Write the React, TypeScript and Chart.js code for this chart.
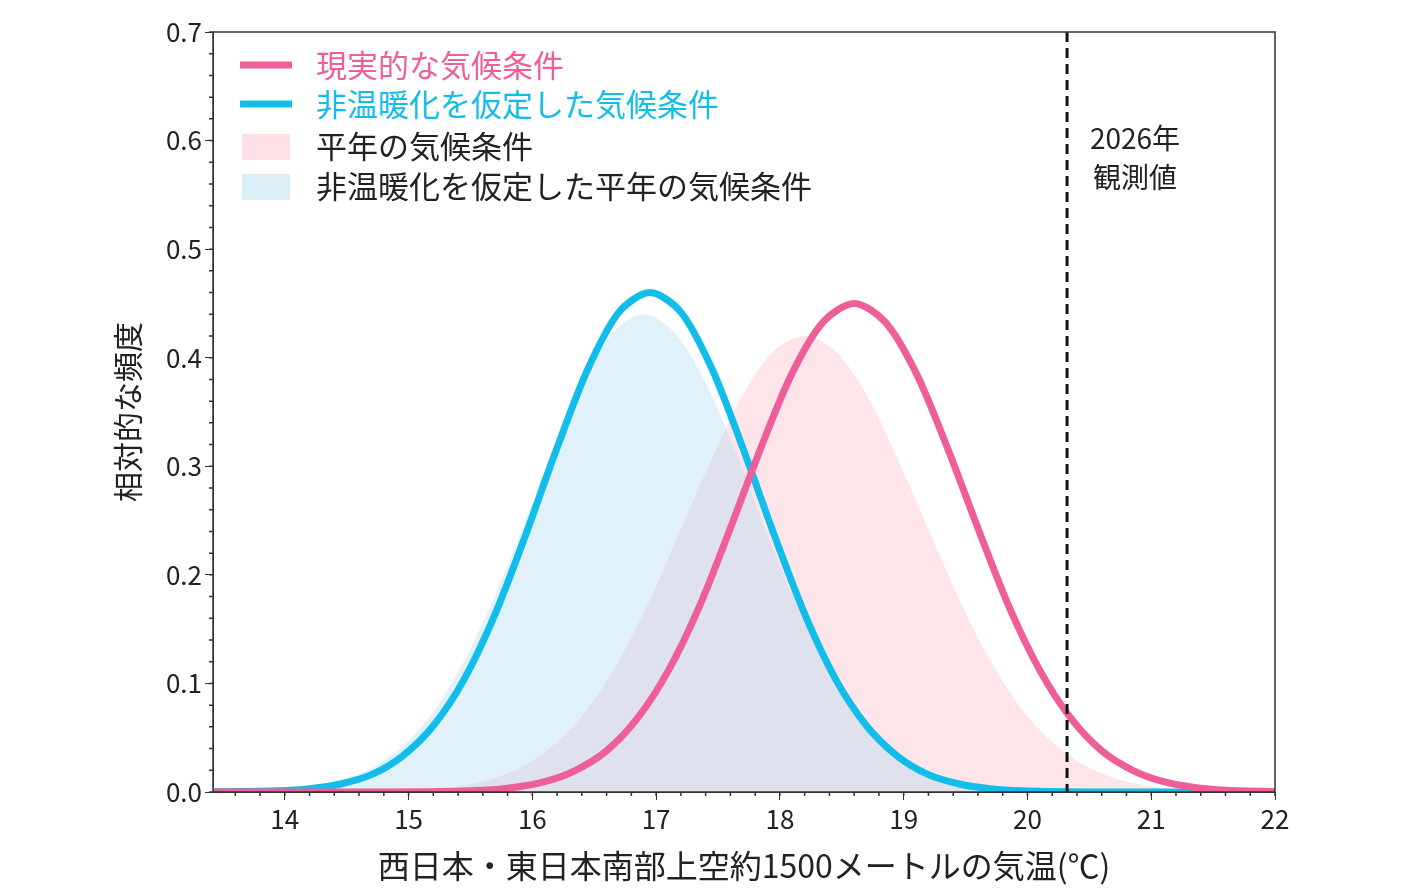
import React, { useEffect, useRef } from "react";
import { Chart, registerables } from "chart.js";
Chart.register(...registerables);

const pinkLineX = [13.4, 14.6, 15.1, 15.6, 15.85, 16.1, 16.35, 16.6, 16.85, 17.1, 17.35, 17.6, 17.85, 18.1, 18.35, 18.6, 18.85, 19.1, 19.35, 19.6, 19.85, 20.1, 20.35, 20.6, 20.85, 21.1, 21.35, 21.6, 22.0];
const pinkLineY = [0, 0, 0.0002, 0.0017, 0.0042, 0.0095, 0.02, 0.038, 0.068, 0.112, 0.171, 0.243, 0.318, 0.386, 0.433, 0.45, 0.433, 0.386, 0.318, 0.243, 0.171, 0.112, 0.068, 0.038, 0.02, 0.0095, 0.0042, 0.0017, 0.0003];
const blueLineX = [13.4, 13.95, 14.2, 14.45, 14.7, 14.95, 15.2, 15.45, 15.7, 15.95, 16.2, 16.45, 16.7, 16.95, 17.2, 17.45, 17.7, 17.95, 18.2, 18.45, 18.7, 18.95, 19.2, 19.45, 19.7, 19.95, 20.45, 22.0];
const blueLineY = [0.0001, 0.0012, 0.0031, 0.0074, 0.016, 0.033, 0.061, 0.104, 0.164, 0.238, 0.317, 0.39, 0.442, 0.46, 0.442, 0.39, 0.317, 0.238, 0.164, 0.104, 0.061, 0.033, 0.016, 0.0074, 0.0031, 0.0012, 0.0001, 0];
const pinkFillX = [13.4, 14.2, 14.7, 15.2, 15.45, 15.7, 15.95, 16.2, 16.45, 16.7, 16.95, 17.2, 17.45, 17.7, 17.95, 18.2, 18.45, 18.7, 18.95, 19.2, 19.45, 19.7, 19.95, 20.2, 20.45, 20.7, 20.95, 21.2, 21.7, 22.0];
const pinkFillY = [0, 0, 0.0005, 0.0029, 0.0063, 0.013, 0.025, 0.046, 0.077, 0.121, 0.177, 0.242, 0.307, 0.366, 0.406, 0.42, 0.406, 0.366, 0.307, 0.242, 0.177, 0.121, 0.077, 0.046, 0.025, 0.013, 0.0063, 0.0029, 0.0005, 0];
const blueFillX = [13.4, 13.9, 14.15, 14.4, 14.65, 14.9, 15.15, 15.4, 15.65, 15.9, 16.15, 16.4, 16.65, 16.9, 17.15, 17.4, 17.65, 17.9, 18.15, 18.4, 18.65, 18.9, 19.15, 19.4, 19.65, 19.9, 20.4, 22.0];
const blueFillY = [0.0001, 0.0017, 0.0041, 0.0093, 0.019, 0.037, 0.066, 0.11, 0.168, 0.237, 0.311, 0.377, 0.423, 0.44, 0.423, 0.377, 0.311, 0.237, 0.168, 0.11, 0.066, 0.037, 0.019, 0.0093, 0.0041, 0.0017, 0.0002, 0];
const observedX = 20.32;
const legendLabels = ["現実的な気候条件", "非温暖化を仮定した気候条件", "平年の気候条件", "非温暖化を仮定した平年の気候条件"];
const obsLabel = ["2026年", "観測値"];
const xTitle = "西日本・東日本南部上空約1500メートルの気温(℃)";
const yTitle = "相対的な頻度";

const FONT = "'Noto Sans CJK JP', 'Noto Sans', sans-serif";
const PINK = "#ee5f9a";
const BLUE = "#12bde9";
const PINKF = "rgba(250,175,190,0.33)";
const BLUEF = "rgba(175,218,238,0.38)";

const pts = (xs: number[], ys: number[]) => xs.map((x, i) => ({ x, y: ys[i] }));

export default function App() {
  const ref = useRef<HTMLCanvasElement>(null);
  useEffect(() => {
    const deco = {
      id: "deco",
      afterDraw(c: any) {
        const ctx = c.ctx;
        const { left, right, top, bottom } = c.chartArea;
        const xs = c.scales.x, ys = c.scales.y;
        ctx.save();
        ctx.strokeStyle = "#111";
        ctx.lineWidth = 3;
        ctx.setLineDash([10, 6]);
        ctx.beginPath();
        const ox = xs.getPixelForValue(observedX);
        ctx.moveTo(ox, top); ctx.lineTo(ox, bottom); ctx.stroke();
        ctx.setLineDash([]);
        ctx.lineWidth = 1.5;
        ctx.strokeStyle = "#333";
        ctx.strokeRect(left, top, right - left, bottom - top);
        ctx.beginPath();
        for (let v = 0; v <= 0.7001; v += 0.02) {
          const y = ys.getPixelForValue(v);
          ctx.moveTo(left, y); ctx.lineTo(left - 4, y);
        }
        for (let v = 13.6; v <= 22.001; v += 0.2) {
          const x = xs.getPixelForValue(v);
          ctx.moveTo(x, bottom); ctx.lineTo(x, bottom + 4);
        }
        ctx.stroke();
        ctx.fillStyle = "#222";
        ctx.font = `28px ${FONT}`;
        ctx.textAlign = "center";
        ctx.textBaseline = "middle";
        ctx.fillText(obsLabel[0], 1135, 138);
        ctx.fillText(obsLabel[1], 1135, 177);
        ctx.textAlign = "left";
        ctx.font = `31px ${FONT}`;
        const rows = [65, 104, 146, 186];
        const kinds = [
          { t: "line", c: PINK, tc: PINK },
          { t: "line", c: BLUE, tc: BLUE },
          { t: "fill", c: "rgba(250,175,190,0.4)", tc: "#222" },
          { t: "fill", c: "rgba(175,218,238,0.45)", tc: "#222" },
        ];
        rows.forEach((y, i) => {
          const k = kinds[i];
          if (k.t === "line") {
            ctx.strokeStyle = k.c; ctx.lineWidth = 7;
            ctx.beginPath(); ctx.moveTo(240, y); ctx.lineTo(292, y); ctx.stroke();
          } else {
            ctx.fillStyle = k.c; ctx.fillRect(242, y - 12, 48, 26);
          }
          ctx.fillStyle = k.tc;
          ctx.fillText(legendLabels[i], 316, y);
        });
        ctx.restore();
      },
    };
    const chart = new Chart(ref.current!, {
      type: "scatter",
      data: {
        datasets: [
          { data: pts(pinkFillX, pinkFillY), order: 3, showLine: true, fill: "origin", backgroundColor: PINKF, borderWidth: 0, pointRadius: 0, tension: 0.3 },
          { data: pts(blueFillX, blueFillY), order: 2, showLine: true, fill: "origin", backgroundColor: BLUEF, borderWidth: 0, pointRadius: 0, tension: 0.3 },
          { data: pts(blueLineX, blueLineY), order: 1, showLine: true, borderColor: BLUE, borderWidth: 7, pointRadius: 0, tension: 0.3 },
          { data: pts(pinkLineX, pinkLineY), order: 0, showLine: true, borderColor: PINK, borderWidth: 7, pointRadius: 0, tension: 0.3 },
        ] as any,
      },
      options: {
        animation: false,
        responsive: false,
        layout: { padding: { left: 106, top: 32, right: 150, bottom: 0 } },
        plugins: { legend: { display: false }, tooltip: { enabled: false } },
        scales: {
          x: {
            type: "linear", min: 13.42, max: 22,
            afterBuildTicks: (s: any) => { s.ticks = [14, 15, 16, 17, 18, 19, 20, 21, 22].map(v => ({ value: v })); },
            afterFit: (s: any) => { s.height = 97; },
            grid: { drawOnChartArea: false, tickLength: 8, color: "#333" },
            border: { color: "#333" },
            ticks: { color: "#222", font: { size: 26, family: FONT }, padding: 4 },
            title: { display: true, text: xTitle, color: "#222", font: { size: 32, family: FONT }, padding: { top: 2 } },
          },
          y: {
            min: 0, max: 0.7,
            afterFit: (s: any) => { s.width = 107; },
            grid: { drawOnChartArea: false, tickLength: 8, color: "#333" },
            border: { color: "#333" },
            ticks: { stepSize: 0.1, color: "#222", font: { size: 26, family: FONT }, callback: (v: any) => Number(v).toFixed(1) },
            title: { display: true, text: yTitle, color: "#222", font: { size: 30, family: FONT }, padding: { bottom: 4 } },
          },
        },
      } as any,
      plugins: [deco],
    });
    return () => chart.destroy();
  }, []);
  return (
    <div style={{ position: "absolute", left: 0, top: 0, width: 1425, height: 889, background: "#fff" }}>
      <canvas ref={ref} width={1425} height={889} />
    </div>
  );
}
